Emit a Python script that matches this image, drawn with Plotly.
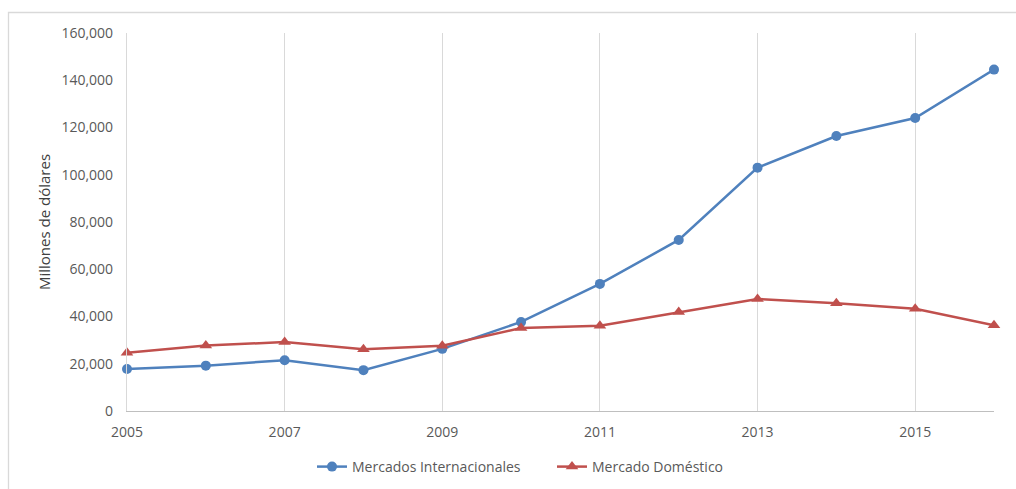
import plotly.graph_objects as go

years = [2005, 2006, 2007, 2008, 2009, 2010, 2011, 2012, 2013, 2014, 2015, 2016]
internacionales = [17800, 19200, 21500, 17300, 26300, 37700, 53800, 72400, 103000, 116400, 124000, 144500]
domestico = [24700, 27700, 29200, 26100, 27600, 35100, 36100, 41900, 47400, 45600, 43300, 36300]

series_names = ["Mercados Internacionales", "Mercado Doméstico"]
y_title = "Millones de dólares"

BLUE = "#4F81BD"
RED = "#C0504D"
FONT = "Open Sans"
TXT = "#595959"

fig = go.Figure()
fig.add_trace(go.Scatter(
    x=years, y=internacionales, name=series_names[0], mode="lines+markers",
    line=dict(color=BLUE, width=2.5),
    marker=dict(symbol="circle", size=10, color=BLUE), cliponaxis=False,
))
fig.add_trace(go.Scatter(
    x=years, y=domestico, name=series_names[1], mode="lines+markers",
    line=dict(color=RED, width=2.5),
    marker=dict(symbol="triangle-up", size=11, color=RED), cliponaxis=False,
))

W, H = 1016, 489
L, R, T, B = 127, 22, 33, 78
pw, ph = W - L - R, H - T - B

def px_x(x):
    return (x - L) / pw

def px_y(y):
    return (H - B - y) / ph

fig.update_layout(
    width=W, height=H,
    margin=dict(l=L, r=R, t=T, b=B, autoexpand=False),
    paper_bgcolor="white", plot_bgcolor="white",
    font=dict(family=FONT, size=14, color=TXT),
    showlegend=True,
    legend=dict(orientation="h", xref="container", yref="container",
                x=552 / W, xanchor="center", y=(H - 467) / H, yanchor="middle",
                entrywidth=195, entrywidthmode="pixels",
                font=dict(size=14, color=TXT), traceorder="normal"),
    xaxis=dict(range=[2005, 2016], tick0=2005, dtick=2, showgrid=True, gridcolor="#d9d9d9",
               gridwidth=1.3, showline=True, linecolor="#bfbfbf", linewidth=1.3,
               ticks="outside", ticklen=8, tickcolor="rgba(0,0,0,0)", zeroline=False,
               tickfont=dict(size=14, color=TXT), automargin=False),
    yaxis=dict(range=[0, 160000], dtick=20000, tickformat=",", showgrid=False,
               showline=True, linecolor="#d9d9d9", linewidth=1.3, zeroline=False,
               ticks="outside", ticklen=10, tickcolor="rgba(0,0,0,0)",
               tickfont=dict(size=14, color=TXT), automargin=False),
    annotations=[dict(text=y_title, textangle=-90, xref="paper", yref="paper",
                      x=px_x(44), y=px_y(222), xanchor="center", yanchor="middle",
                      showarrow=False, font=dict(size=15, color="#404040"))],
    shapes=[dict(type="rect", xref="paper", yref="paper",
                 x0=px_x(8.5), x1=px_x(1030), y0=px_y(500), y1=px_y(12.5),
                 line=dict(color="#d9d9d9", width=1.3), fillcolor="rgba(0,0,0,0)", layer="below")],
)

fig.write_html("out.html")
